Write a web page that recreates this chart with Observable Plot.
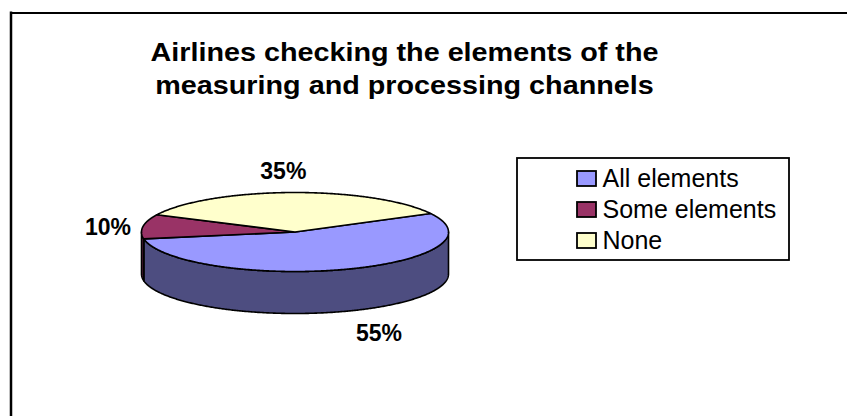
<!DOCTYPE html>
<html><head><meta charset="utf-8">
<script src="https://cdn.jsdelivr.net/npm/d3@7"></script>
<script src="https://cdn.jsdelivr.net/npm/@observablehq/plot@0.6"></script>
<style>body{margin:0;background:#fff} svg{display:block}</style>
</head><body><div id="chart"></div>
<script>
// ---- data ----
const categories = ["All elements", "Some elements", "None"];
const shares = [55, 10, 35];
const labels = ["55%", "10%", "35%"];
const topColors = ["#9999FF", "#993366", "#FFFFCC"];
const sideColors = ["#4D4D80", "#4D1A33", "#808066"];
const titleLines = ["Airlines checking the elements of the", "measuring and processing channels"];

// ---- layout ----
const W = 847, H = 416;
const pie = {cx: 294.5, cy: 231.5, rx: 153.5, ry: 39.5, depth: 42, start: 62};
const labelOffset = [[34, 22], [-35, 1], [-9, -21]];
const title = {x: 404, y0: 60.5, lh: 32.5, size: 25, sx: 1.15};
const legend = {x1: 517, x2: 789, y1: 158, y2: 260, swX: 577, swW: 19, swH: 15, textX: 602, base0: 186, row: 31};
const font = "Arial, 'Liberation Sans', sans-serif";

const rad = d => d * Math.PI / 180;
const pt = (a, dz = 0) => ({x: pie.cx + pie.rx * Math.sin(rad(a)), y: pie.cy - pie.ry * Math.cos(rad(a)) + dz});
const total = d3.sum(shares);
let acc = pie.start;
const slices = shares.map((v, i) => { const a0 = acc; acc += v / total * 360; return {i, a0, a1: acc, mid: (a0 + acc) / 2}; });

function arcPts(a0, a1, dz) {
  const n = Math.max(2, Math.ceil(Math.abs(a1 - a0) / 0.5));
  return d3.range(n + 1).map(k => pt(a0 + (a1 - a0) * k / n, dz));
}

const sides = [];
slices.forEach(s => {
  for (const off of [-360, 0, 360]) {
    const lo = Math.max(s.a0, 90 + off), hi = Math.min(s.a1, 270 + off);
    if (hi > lo) {
      const pts = [...arcPts(lo, hi, 0), ...arcPts(hi, lo, pie.depth)];
      pts.push(pts[0]);
      pts.forEach(p => sides.push({...p, id: `side${s.i}_${off}`, fill: sideColors[s.i]}));
    }
  }
});
const tops = [];
slices.forEach(s => {
  const pts = [{x: pie.cx, y: pie.cy}, ...arcPts(s.a0, s.a1, 0), {x: pie.cx, y: pie.cy}];
  pts.forEach(p => tops.push({...p, id: `top${s.i}`, fill: topColors[s.i]}));
});
const labelData = slices.map(s => {
  const m = ((s.mid % 360) + 360) % 360;
  const front = m > 90 && m < 270;
  const p = pt(s.mid, front ? pie.depth : 0);
  return {x: p.x + labelOffset[s.i][0], y: p.y + labelOffset[s.i][1], text: labels[s.i]};
});

const chart = Plot.plot({
  width: W, height: H,
  margin: 0,
  x: {domain: [0, W], range: [0, W], axis: null},
  y: {domain: [0, H], range: [0, H], axis: null},
  color: {type: "identity"},
  style: {background: "white", fontFamily: font},
  marks: [
    Plot.ruleY([12.5], {x1: 10, x2: W, stroke: "black", strokeWidth: 2}),
    Plot.ruleX([10.5], {y1: 11.5, y2: H, stroke: "black", strokeWidth: 2.5}),
    Plot.text(titleLines, {x: title.x, y: (d, i) => title.y0 + i * title.lh, text: d => d, fontSize: title.size, fontWeight: "bold", lineAnchor: "bottom", textAnchor: "middle", fill: "black"}),
    Plot.line(sides, {x: "x", y: "y", z: "id", fill: "fill", stroke: "black", strokeWidth: 1.6, strokeLinejoin: "round", curve: "linear"}),
    Plot.line(tops, {x: "x", y: "y", z: "id", fill: "fill", stroke: "black", strokeWidth: 1.6, strokeLinejoin: "round", curve: "linear"}),
    Plot.text(labelData, {x: "x", y: "y", text: "text", fontSize: 23, fontWeight: "bold", textAnchor: "middle", lineAnchor: "middle", fill: "black"}),
    Plot.rect([0], {x1: legend.x1, x2: legend.x2, y1: legend.y1, y2: legend.y2, fill: "white", stroke: "black", strokeWidth: 1.8}),
    Plot.rect(categories, {x1: legend.swX, x2: legend.swX + legend.swW, y1: (d, i) => legend.base0 + i * legend.row - legend.swH, y2: (d, i) => legend.base0 + i * legend.row, fill: (d, i) => topColors[i], stroke: "black", strokeWidth: 1.8}),
    Plot.text(categories, {x: legend.textX, y: (d, i) => legend.base0 + i * legend.row, text: d => d, fontSize: 25, textAnchor: "start", lineAnchor: "bottom", fill: "black"})
  ]
});
chart.querySelectorAll("text").forEach(t => {
  if (titleLines.includes(t.textContent)) {
    const tr = t.getAttribute("transform") || "";
    t.setAttribute("transform", tr + ` scale(${title.sx},1)`);
  }
});
document.getElementById("chart").appendChild(chart);
</script></body></html>
